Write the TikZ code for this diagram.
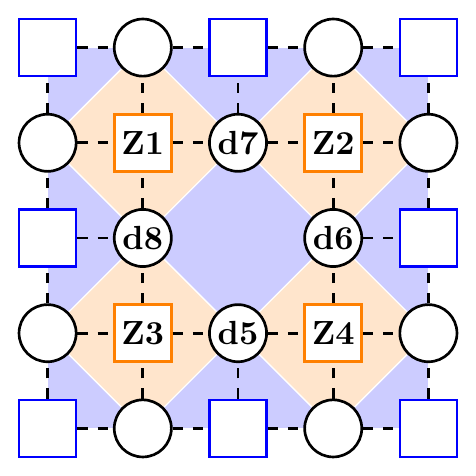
\documentclass[tikz,border=0pt]{standalone}
\begin{document}
\begin{tikzpicture}[
                site/.style = {circle, draw, thick, fill = white, minimum size = 6mm, inner sep = 0pt, font = \bfseries},
                cell/.style = {rectangle, draw = blue, thick, fill = white, minimum size = 6mm, inner sep = 0pt},
                zcell/.style = {cell, draw = orange, font = \bfseries},
                link/.style = {dashed, thick}
            ]
                \useasboundingbox (-0.5,-0.5) rectangle (4.5,4.5);
                \fill[blue!20] (0,0) rectangle (4,4);
                \foreach \x/\y in {1/1,3/1,1/3,3/3}
                    \filldraw[fill = orange!20, draw = white] (\x-1,\y) -- (\x,\y+1) -- (\x+1,\y) -- (\x,\y-1) -- cycle;
                % squares on the even points
                \foreach \x/\y in {0/0,2/0,4/0,0/2,4/2,0/4,2/4,4/4}
                    \node[cell] (n\x\y) at (\x,\y) {};
                % empty circles on the border
                \foreach \x/\y in {1/0,3/0,0/1,4/1,0/3,4/3,1/4,3/4}
                    \node[site] (n\x\y) at (\x,\y) {};
                \node[site] (n23) at (2,3) {d7};
                \node[site] (n12) at (1,2) {d8};
                \node[site] (n32) at (3,2) {d6};
                \node[site] (n21) at (2,1) {d5};
                \node[zcell] (n13) at (1,3) {Z1};
                \node[zcell] (n33) at (3,3) {Z2};
                \node[zcell] (n11) at (1,1) {Z3};
                \node[zcell] (n31) at (3,1) {Z4};
                \begin{scope}[link]
                    \foreach \y in {0,1,3,4}
                        \foreach \a/\b in {0/1,1/2,2/3,3/4} {
                            \draw (n\a\y) -- (n\b\y);
                            \draw (n\y\a) -- (n\y\b);
                        }
                    \draw (n02) -- (n12);
                    \draw (n32) -- (n42);
                    \draw (n20) -- (n21);
                    \draw (n23) -- (n24);
                \end{scope}
            \end{tikzpicture}
\end{document}
